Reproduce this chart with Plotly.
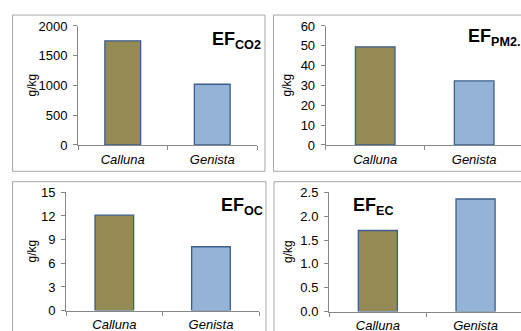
import plotly.graph_objects as go

# ---- data ----
categories = ["Calluna", "Genista"]
ef_co2 = [1750, 1020]
ef_pm25 = [49.5, 32.3]
ef_oc = [12.1, 8.1]
ef_ec = [1.70, 2.36]
bar_colors = ["#948A54", "#95B3D7"]

W, H = 521, 345          # figure drawn a little taller than the window
# vertical calibration of the photographed page (measured): shown_y = 0.9625 * page_y + 5.2
V_SCALE, V_OFF = 0.9625, 5.2

def px(p):
    return p / W
def py(t):
    page = (t - V_OFF) / V_SCALE
    return 1 - page / H

FONT = "Liberation Sans, Arial, sans-serif"
AXIS_COLOR = "#868686"

panels = [
    dict(vals=ef_co2, sub="CO2", xd=(78, 257), yd=(24.3, 144), xr=[-0.5, 1.5], yr=[0, 2000], dt=500, fmt="",
         ef=(210, 31.7), gx=32),
    dict(vals=ef_pm25, sub="PM2.", xd=(325.7, 521), yd=(24.3, 144), xr=[-0.5, 1.473], yr=[0, 60], dt=10, fmt="",
         ef=(465.5, 28.3), gx=287),
    dict(vals=ef_oc, sub="OC", xd=(66, 259.3), yd=(191.7, 310.7), xr=[-0.5, 1.5], yr=[0, 15], dt=3, fmt="",
         ef=(219, 198), gx=32),
    dict(vals=ef_ec, sub="EC", xd=(329, 521), yd=(191.7, 311.7), xr=[-0.5, 1.465], yr=[0, 2.5], dt=0.5, fmt=".1f",
         ef=(351, 198.3), gx=288),
]

fig = go.Figure()
layout = dict(
    width=W, height=H, margin=dict(l=0, r=0, t=0, b=0),
    paper_bgcolor="white", plot_bgcolor="white", showlegend=False,
    font=dict(family=FONT, size=13, color="#000000"),
    bargap=0.6,
)
annotations = []
shapes = []

for i, p in enumerate(panels, start=1):
    sx = "" if i == 1 else str(i)
    fig.add_trace(go.Bar(
        x=categories, y=p["vals"], width=0.4,
        marker=dict(color=bar_colors, line=dict(color="#3B5E8C", width=1.3)),
        xaxis="x" + sx, yaxis="y" + sx, hoverinfo="skip",
    ))
    layout["xaxis" + sx] = dict(
        domain=[px(p["xd"][0]), px(p["xd"][1])], anchor="y" + sx,
        range=p["xr"], type="category", tickson="boundaries",
        ticks="outside", ticklen=4, tickcolor=AXIS_COLOR, tickwidth=1,
        showline=True, linecolor=AXIS_COLOR, linewidth=1,
        showgrid=False, zeroline=False, ticklabelstandoff=2,
        tickfont=dict(family=FONT, size=13, color="#000000"),
        fixedrange=True,
        tickmode="array", tickvals=categories,
        ticktext=["<i>%s</i>" % c for c in categories],
    )
    layout["yaxis" + sx] = dict(
        domain=[py(p["yd"][1]), py(p["yd"][0])], anchor="x" + sx,
        range=p["yr"], dtick=p["dt"], tick0=0, tickformat=p["fmt"],
        ticks="outside", ticklen=4, tickcolor=AXIS_COLOR, tickwidth=1,
        showline=True, linecolor=AXIS_COLOR, linewidth=1,
        showgrid=False, zeroline=False, ticklabelstandoff=3,
        tickfont=dict(family=FONT, size=13, color="#000000"),
        fixedrange=True,
    )

    # panel title: cap top of "EF" at the given shown y
    cap_page = (p["ef"][1] - V_OFF) / V_SCALE
    annotations.append(dict(
        xref="paper", yref="paper", x=px(p["ef"][0]), y=1 - (cap_page - 6.2) / H,
        xanchor="left", yanchor="top", showarrow=False,
        text="<b>EF<sub>%s</sub></b>" % p["sub"],
        font=dict(family=FONT, size=18, color="#000000"),
    ))
    ymid = (p["yd"][0] + p["yd"][1]) / 2
    annotations.append(dict(
        xref="paper", yref="paper", x=px(p["gx"]), y=py(ymid),
        xanchor="center", yanchor="middle", showarrow=False, textangle=-90,
        text="g/kg", font=dict(family=FONT, size=12, color="#000000"),
    ))

frames = [(12.5, 13.3, 265, 170.5), (273.5, 13.3, 540, 170.5),
          (12.5, 181, 266, 360), (274, 181, 540, 360)]
for (x0, y0, x1, y1) in frames:
    shapes.append(dict(type="rect", xref="paper", yref="paper",
                       x0=px(x0), x1=px(x1), y0=py(y1), y1=py(y0),
                       line=dict(color="#A6A6A6", width=1), fillcolor="rgba(0,0,0,0)",
                       layer="below"))

layout["annotations"] = annotations
layout["shapes"] = shapes
fig.update_layout(**layout)
fig.write_html(
    "out.html", config={"displayModeBar": False},
    post_script=(
        "document.documentElement.style.margin='0';document.documentElement.style.padding='0';"
        "document.body.style.margin='0';document.body.style.padding='0';"
        "document.body.style.overflow='hidden';"
        "var d=document.querySelector('.plotly-graph-div');"
        "d.style.position='fixed';d.style.top='0px';d.style.left='0px';"
    ),
)
